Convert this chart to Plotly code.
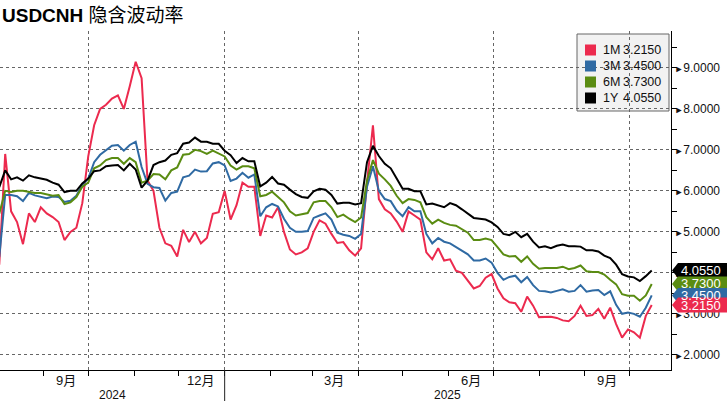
import pandas as pd
import plotly.graph_objects as go

# ---------------- data ----------------
start_date = "2024-08-02"
step_days = 4
n_points = 111
dates = pd.date_range(start_date, periods=n_points, freq=f"{step_days}D")

vol_1m = [4.2, 6.9, 5.5, 5.24, 4.7, 5.45, 5.24, 5.6, 5.45, 5.36,
          5.24, 4.8, 5.0, 5.1, 5.7, 6.84, 7.6, 8.0, 8.1, 8.25,
          8.33, 8.0, 8.55, 9.15, 8.75, 6.25, 6.0, 5.1, 4.72, 4.66,
          4.4, 5.05, 4.75, 5.0, 4.72, 4.85, 5.44, 5.48, 6.0, 5.3,
          5.65, 6.2, 6.1, 6.1, 4.9, 5.4, 5.35, 5.6, 5.0, 4.57,
          4.45, 4.5, 4.6, 5.0, 5.28, 5.2, 4.95, 4.73, 4.75, 4.55,
          4.42, 4.6, 6.2, 7.6, 5.8, 5.55, 5.45, 5.25, 5.0, 5.5,
          5.4, 5.3, 4.5, 4.33, 4.6, 4.3, 4.33, 4.05, 4.0, 3.82,
          3.62, 3.68, 3.88, 3.97, 3.62, 3.38, 3.28, 3.26, 3.05, 3.42,
          3.2, 2.92, 2.93, 2.93, 2.9, 2.84, 2.82, 2.95, 3.2, 2.95,
          2.97, 3.12, 2.88, 3.15, 2.75, 2.42, 2.62, 2.55, 2.42, 2.95,
          3.215]

vol_3m = [4.38, 5.9, 5.9, 5.87, 5.75, 5.95, 5.89, 5.86, 5.82, 5.86,
          5.85, 5.73, 5.76, 5.88, 6.15, 6.3, 6.7, 6.88, 7.0, 7.1,
          7.12, 6.98, 7.12, 7.2, 6.58, 6.17, 6.09, 6.07, 5.76, 5.95,
          5.98, 6.33, 6.37, 6.52, 6.47, 6.48, 6.67, 6.7, 6.62, 6.24,
          6.3, 6.44, 6.32, 6.4, 5.38, 5.6, 5.68, 5.62, 5.32, 5.1,
          5.0, 5.0, 5.02, 5.34, 5.4, 5.45, 5.3, 4.98, 4.93, 4.9,
          4.83, 4.95, 6.1, 6.6, 6.0, 5.8, 5.75, 5.52, 5.38, 5.6,
          5.5, 5.5, 4.95, 4.72, 4.85, 4.76, 4.72, 4.63, 4.55, 4.45,
          4.3, 4.3, 4.35, 4.25, 4.0, 3.83, 3.9, 3.93, 3.77, 3.9,
          3.7, 3.56, 3.55, 3.52, 3.56, 3.6, 3.54, 3.56, 3.7, 3.54,
          3.57, 3.58, 3.46, 3.55, 3.22, 3.0, 3.03, 3.0, 2.93, 3.15,
          3.45]

vol_6m = [5.44, 6.0, 5.97, 6.0, 6.0, 5.98, 5.95, 5.95, 5.92, 5.88,
          5.9, 5.68, 5.72, 5.85, 6.1, 6.2, 6.55, 6.62, 6.75, 6.8,
          6.8, 6.66, 6.8, 6.7, 6.2, 6.25, 6.41, 6.4, 6.28, 6.5,
          6.57, 6.88, 6.9, 7.0, 6.97, 6.9, 6.98, 6.9, 6.84, 6.62,
          6.52, 6.6, 6.6, 6.55, 5.87, 5.9, 5.98, 5.85, 5.72, 5.5,
          5.4, 5.43, 5.46, 5.72, 5.75, 5.75, 5.6, 5.36, 5.42, 5.32,
          5.24, 5.35, 6.25, 6.75, 6.42, 6.28, 6.12, 5.88, 5.7, 5.8,
          5.78, 5.72, 5.36, 5.2, 5.3, 5.22, 5.17, 5.15, 5.07, 4.98,
          4.8, 4.8, 4.84, 4.8, 4.63, 4.45, 4.4, 4.41, 4.27, 4.4,
          4.22, 4.1, 4.12, 4.12, 4.12, 4.15, 4.09, 4.12, 4.18, 4.04,
          4.02, 4.02, 3.96, 3.83, 3.72, 3.48, 3.44, 3.44, 3.32, 3.45,
          3.73]

vol_1y = [6.09, 6.5, 6.28, 6.33, 6.25, 6.38, 6.33, 6.3, 6.27, 6.2,
          6.15, 5.97, 6.0, 6.0, 6.18, 6.3, 6.48, 6.5, 6.6, 6.62,
          6.63, 6.5, 6.66, 6.52, 6.08, 6.25, 6.63, 6.7, 6.74, 6.88,
          6.92, 7.15, 7.18, 7.3, 7.2, 7.2, 7.15, 7.15, 6.98, 6.87,
          6.68, 6.8, 6.72, 6.72, 6.11, 6.2, 6.34, 6.18, 6.15, 6.03,
          5.92, 5.85, 5.83, 5.99, 6.05, 6.03, 5.9, 5.69, 5.71, 5.71,
          5.67, 5.7, 6.7, 7.1, 6.85, 6.66, 6.55, 6.3, 6.05, 6.05,
          5.99, 5.99, 5.67, 5.69, 5.64, 5.6, 5.7, 5.65, 5.55, 5.45,
          5.34, 5.32, 5.3, 5.23, 5.12, 4.95, 4.92, 5.0, 4.87, 4.95,
          4.76, 4.62, 4.65, 4.6, 4.66, 4.69, 4.65, 4.65, 4.64, 4.55,
          4.55, 4.52, 4.42, 4.36, 4.2, 3.97, 3.91, 3.89, 3.8, 3.92,
          4.055]

series_names = ["1M", "3M", "6M", "1Y"]
series_values = [vol_1m, vol_3m, vol_6m, vol_1y]
series_colors = ["#ec2a4e", "#2f6aa3", "#5a8c12", "#000000"]

title_latin = "USDCNH"
title_cn = "隐含波动率"
month_labels = ["9月", "12月", "3月", "6月", "9月"]
month_label_dates = ["2024-09-16", "2024-12-16", "2025-03-16", "2025-06-16", "2025-09-16"]
year_labels = ["2024", "2025"]
year_split = "2025-01-01"
y_ticks = [2, 3, 4, 5, 6, 7, 8, 9]

x_range = ["2024-08-02 12:00", "2025-10-29"]
y_range = [1.63, 9.9]

# ---------------- figure ----------------
W, H = 727, 401
ML, MR, MT, MB = 0, 56, 31, 31
PW, PH = W - ML - MR, H - MT - MB
FONT = "Liberation Sans, Arial, Noto Sans CJK SC"
units_per_px = (y_range[1] - y_range[0]) / PH


def py(px_from_bottom):
    return px_from_bottom / PH


def px_x(px):
    return px / PW


fig = go.Figure()
for name, vals, col in zip(series_names, series_values, series_colors):
    fig.add_trace(go.Scatter(x=dates, y=vals, mode="lines", name=name,
                             line=dict(color=col, width=2), showlegend=False,
                             hoverinfo="skip"))

shapes = []
annotations = []

# custom legend box
shapes.append(dict(type="rect", xref="paper", yref="paper",
                   x0=px_x(577), x1=px_x(669), y0=py(370 - 111), y1=py(370 - 34),
                   fillcolor="rgba(242,242,242,1)", line=dict(color="#666666", width=1),
                   layer="below"))
row_centers = [50, 66, 82, 98]
for name, vals, col, rc in zip(series_names, series_values, series_colors, row_centers):
    yc = py(370 - rc)
    shapes.append(dict(type="rect", xref="paper", yref="paper",
                       x0=px_x(585), x1=px_x(596), y0=yc - py(5.5), y1=yc + py(5.5),
                       fillcolor=col, line=dict(width=0)))
    annotations.append(dict(xref="paper", yref="paper", x=px_x(601), y=yc,
                            xanchor="left", yanchor="middle", showarrow=False,
                            text=name, font=dict(family=FONT, size=12.5, color="#111")))
    annotations.append(dict(xref="paper", yref="paper", x=px_x(663), y=yc,
                            xanchor="right", yanchor="middle", showarrow=False,
                            text=f"{vals[-1]:.4f}", font=dict(family=FONT, size=12.5, color="#111")))

# end-value tags on the right axis (black first, red last so red sits on top)
half = 7.5 * units_per_px
for name, vals, col in zip(series_names[::-1], series_values[::-1], series_colors[::-1]):
    v = vals[-1]
    x_tip, x_body, x_end = 1.0 + px_x(1), 1.0 + px_x(7), 1.0 + px_x(57)
    path = (f"M {x_tip},{v} L {x_body},{v + half} L {x_end},{v + half} "
            f"L {x_end},{v - half} L {x_body},{v - half} Z")
    shapes.append(dict(type="path", xref="paper", yref="y", path=path,
                       fillcolor=col, line=dict(width=0), layer="above"))
    annotations.append(dict(xref="paper", yref="y", x=1.0 + px_x(8), y=v,
                            xanchor="left", yanchor="middle", showarrow=False,
                            text=f"{v:.4f}", font=dict(family=FONT, size=13, color="white")))

# month labels
for lab, d in zip(month_labels, month_label_dates):
    annotations.append(dict(xref="x", yref="paper", x=d, y=-py(10),
                            xanchor="center", yanchor="middle", showarrow=False,
                            text=lab, font=dict(family=FONT, size=13, color="#111")))

# year labels centered in visible spans
x0 = pd.Timestamp(x_range[0]); x1 = pd.Timestamp(x_range[1]); xs = pd.Timestamp(year_split)
year_centers = [x0 + (xs - x0) / 2, xs + (x1 - xs) / 2]
for lab, c in zip(year_labels, year_centers):
    annotations.append(dict(xref="x", yref="paper", x=c, y=-py(25),
                            xanchor="center", yanchor="middle", showarrow=False,
                            text=lab, font=dict(family=FONT, size=12, color="#111")))
shapes.append(dict(type="line", xref="x", yref="paper", x0=year_split, x1=year_split,
                   y0=0, y1=-py(31), line=dict(color="#222", width=1)))

# title
annotations.append(dict(xref="paper", yref="paper", x=0, y=py(370 - 15),
                        xanchor="left", yanchor="middle", showarrow=False,
                        text=f"<b>{title_latin}</b> {title_cn}",
                        font=dict(family="Liberation Sans, Noto Sans CJK SC", size=19, color="#000")))

tick_text = [f'<span style="font-size:9px">►</span>{t:.4f}' for t in y_ticks]

fig.update_layout(
    template="none",
    width=W, height=H,
    margin=dict(l=ML, r=MR, t=MT, b=MB, pad=0, autoexpand=False),
    paper_bgcolor="white", plot_bgcolor="rgba(0,0,0,0)",
    showlegend=False,
    shapes=shapes, annotations=annotations,
    xaxis=dict(type="date", range=x_range, tick0="2024-10-01", dtick="M3",
               automargin=False,
               ticks="outside", ticklen=5, tickcolor="#000", showticklabels=False,
               showgrid=True, gridcolor="#666", griddash="dot", gridwidth=1,
               showline=True, linecolor="#000", linewidth=1, zeroline=False,
               minor=dict(tick0="2024-09-01", dtick="M1", ticks="outside", ticklen=5,
                          tickcolor="#000", showgrid=False)),
    yaxis=dict(side="right", range=y_range, tickvals=y_ticks, ticktext=tick_text,
               automargin=False,
               ticks="", showgrid=True, gridcolor="#666", griddash="dot", gridwidth=1,
               showline=True, linecolor="#000", linewidth=1, zeroline=False,
               tickfont=dict(family=FONT, size=12, color="#111"),
               minor=dict(tick0=0, dtick=0.5, ticks="outside", ticklen=5,
                          tickcolor="#000", showgrid=False)),
)

fig.write_html("out.html",
               config={"displayModeBar": False, "staticPlot": True},
               post_script="document.body.style.margin='0';document.body.style.overflow='hidden';")
